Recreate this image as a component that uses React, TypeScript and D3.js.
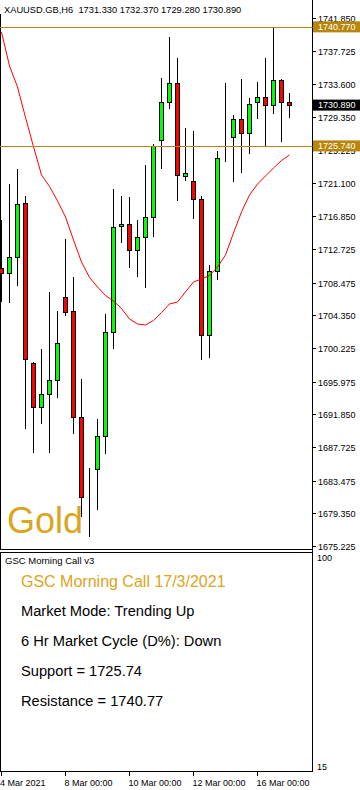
import React from 'react';
import * as d3 from 'd3';

// chart header
const symbolTitle = 'XAUUSD.GB,H6';
const lastBar = ['1731.330', '1732.370', '1729.280', '1730.890'];

// H6 bars, 4 Mar 2021 00:00 .. 17 Mar 2021 00:00
const opens = [1710.33, 1709.66, 1711.68, 1718.53, 1698.29, 1692.74, 1694.38, 1696.15, 1706.63, 1704.86, 1691.47, 1681.45, 1684.91, 1689.08, 1702.21, 1715.59, 1715.84, 1712.60, 1714.20, 1716.73, 1726.49, 1731.25, 1733.65, 1721.90, 1721.27, 1719.00, 1701.83, 1709.91, 1726.83, 1726.83, 1729.10, 1727.33, 1731.25, 1731.88, 1730.87, 1734.03, 1731.33];
const highs = [1716.39, 1720.93, 1722.83, 1719.42, 1698.45, 1700.10, 1707.26, 1704.90, 1713.99, 1709.15, 1696.31, 1685.04, 1691.26, 1704.48, 1720.30, 1719.42, 1719.29, 1716.39, 1723.33, 1725.98, 1734.28, 1739.53, 1736.80, 1727.96, 1727.62, 1719.42, 1710.70, 1725.10, 1733.65, 1729.64, 1734.15, 1731.75, 1733.77, 1736.80, 1740.72, 1734.15, 1732.37];
const lows = [1706.03, 1705.94, 1708.05, 1690.00, 1686.93, 1690.59, 1686.93, 1693.95, 1704.30, 1689.33, 1678.89, 1676.40, 1679.77, 1686.80, 1700.06, 1713.44, 1710.36, 1709.23, 1707.76, 1714.20, 1722.79, 1730.36, 1718.82, 1721.35, 1716.47, 1698.71, 1699.00, 1708.81, 1723.75, 1721.22, 1722.36, 1724.68, 1729.10, 1725.73, 1729.81, 1726.27, 1729.28];
const closes = [1709.70, 1711.68, 1718.37, 1698.80, 1692.74, 1694.38, 1696.15, 1700.82, 1704.81, 1691.47, 1681.45, 1681.45, 1689.08, 1702.21, 1715.54, 1715.84, 1712.60, 1714.20, 1716.73, 1725.73, 1731.25, 1733.65, 1722.07, 1722.28, 1719.00, 1701.83, 1709.91, 1724.18, 1726.83, 1729.10, 1727.33, 1730.99, 1731.88, 1730.87, 1734.03, 1731.25, 1730.89];
// moving average (red line)
const maValues = [1740.12, 1735.83, 1733.18, 1729.33, 1725.64, 1722.07, 1720.62, 1718.79, 1716.77, 1713.86, 1711.08, 1709.13, 1707.93, 1706.85, 1706.16, 1705.21, 1703.89, 1703.26, 1703.13, 1703.70, 1704.71, 1705.78, 1706.03, 1707.30, 1708.56, 1708.94, 1709.38, 1710.45, 1711.97, 1714.75, 1717.40, 1719.54, 1720.93, 1721.94, 1722.95, 1723.90, 1724.59];

const priceTicks = ['1741.850', '1737.725', '1733.600', '1729.350', '1725.225', '1721.100', '1716.850', '1712.725', '1708.475', '1704.350', '1700.225', '1695.975', '1691.850', '1687.725', '1683.475', '1679.350', '1675.225'];
const dateTicks = [0, 8, 16, 24, 32];
const dateLabels = ['4 Mar 2021', '8 Mar 00:00', '10 Mar 00:00', '12 Mar 00:00', '16 Mar 00:00'];

const support = 1725.74;
const resistance = 1740.77;
const lastPrice = 1730.89;

const panelTitle = 'GSC Morning Call v3';
const callTitle = 'GSC Morning Call 17/3/2021';
const callLines = ['Market Mode: Trending Up', '6 Hr Market Cycle (D%): Down', 'Support = 1725.74', 'Resistance = 1740.77'];
const panelScale = [100, 15];

const W = 360;
const H = 790;
const axisX = 312.5;
const font = "'Liberation Sans', Arial, sans-serif";
const gold = '#DAA520';
const lineGold = '#B8860B';

export default function App() {
  const x = d3.scaleLinear().domain([0, opens.length - 1]).range([1.5, 1.5 + 8 * (opens.length - 1)]);
  const y = d3.scaleLinear().domain([1675.225, 1741.85]).range([546, 18.3]);
  const yPanel = d3.scaleLinear().domain([15, 100]).range([767, 558]);

  const maLine = d3.line<number>()
    .x((d, i) => x(i))
    .y(d => y(d));

  const snap = (v: number) => Math.round(v) + 0.5;

  return (
    <svg width={W} height={H} style={{ position: 'absolute', left: 0, top: 0, background: '#fff' }}>
      <rect x={0} y={0} width={W} height={H} fill="#fff" />

      <text x={4} y={12.5} fontFamily={font} fontSize={9.3} fill="#000" style={{ whiteSpace: 'pre' }}>
        {symbolTitle + '  ' + lastBar.join(' ')}
      </text>

      {/* main frame */}
      <line x1={0.5} y1={14} x2={0.5} y2={550} stroke="#000" />
      <line x1={0} y1={549.5} x2={axisX} y2={549.5} stroke="#000" />
      <line x1={axisX} y1={0} x2={axisX} y2={772} stroke="#000" />

      <text x={7} y={533} fontFamily={font} fontSize={36} fill={gold}>Gold</text>

      {/* candles */}
      <g>
        {opens.map((o, i) => {
          const c = closes[i];
          const cx = x(i);
          const top = Math.round(y(Math.max(o, c)));
          const bottom = Math.round(y(Math.min(o, c)));
          const fill = c > o ? '#00FF00' : c < o ? '#FF0000' : 'none';
          return (
            <g key={i}>
              <line x1={cx} x2={cx} y1={Math.round(y(highs[i]))} y2={Math.round(y(lows[i]))} stroke="#000" />
              <rect x={cx - 2} y={top + 0.5} width={4} height={Math.max(0, bottom - top)} fill={fill} stroke="#000" />
            </g>
          );
        })}
      </g>

      <path d={maLine(maValues) || ''} fill="none" stroke="#FF0000" strokeWidth={1} />

      <line x1={0} x2={axisX} y1={snap(y(resistance))} y2={snap(y(resistance))} stroke={lineGold} />
      <line x1={0} x2={axisX} y1={snap(y(support))} y2={snap(y(support))} stroke={lineGold} />

      {/* price axis */}
      <g fontFamily={font} fontSize={9} fill="#000">
        {priceTicks.map(t => {
          const ty = snap(y(+t));
          return (
            <g key={t}>
              <line x1={axisX} x2={316} y1={ty} y2={ty} stroke="#000" />
              <text x={318} y={ty + 3.3}>{t}</text>
            </g>
          );
        })}
      </g>

      {[resistance, support].map(v => (
        <g key={v}>
          <rect x={313} y={y(v) - 5.5} width={47} height={11} fill={lineGold} />
          <text x={318} y={y(v) + 3.3} fontFamily={font} fontSize={9} fill="#fff">{v.toFixed(3)}</text>
        </g>
      ))}
      <rect x={313} y={y(lastPrice) - 5.5} width={47} height={11} fill="#000" />
      <text x={318} y={y(lastPrice) + 3.3} fontFamily={font} fontSize={9} fill="#fff">{lastPrice.toFixed(3)}</text>

      {/* indicator window */}
      <rect x={0.5} y={552.5} width={axisX - 0.5} height={219} fill="none" stroke="#000" />
      <text x={5} y={564} fontFamily={font} fontSize={9.5} fill="#000">{panelTitle}</text>
      <text x={21} y={587} fontFamily={font} fontSize={16} fill={gold}>{callTitle}</text>
      {callLines.map((t, i) => (
        <text key={t} x={21} y={616 + i * 30} fontFamily={font} fontSize={14.67} fill="#000">{t}</text>
      ))}
      {panelScale.map(v => (
        <text key={v} x={317} y={yPanel(v) + 3.3} fontFamily={font} fontSize={9} fill="#000">{v}</text>
      ))}

      {/* time axis */}
      <g fontFamily={font} fontSize={9} fill="#000">
        {dateTicks.map((d, i) => {
          const tx = Math.floor(x(d)) + 0.5;
          return (
            <g key={d}>
              <line x1={tx} x2={tx} y1={772} y2={776} stroke="#000" />
              <text x={i === 0 ? 0 : tx - 1} y={785.5}>{dateLabels[i]}</text>
            </g>
          );
        })}
      </g>
    </svg>
  );
}
